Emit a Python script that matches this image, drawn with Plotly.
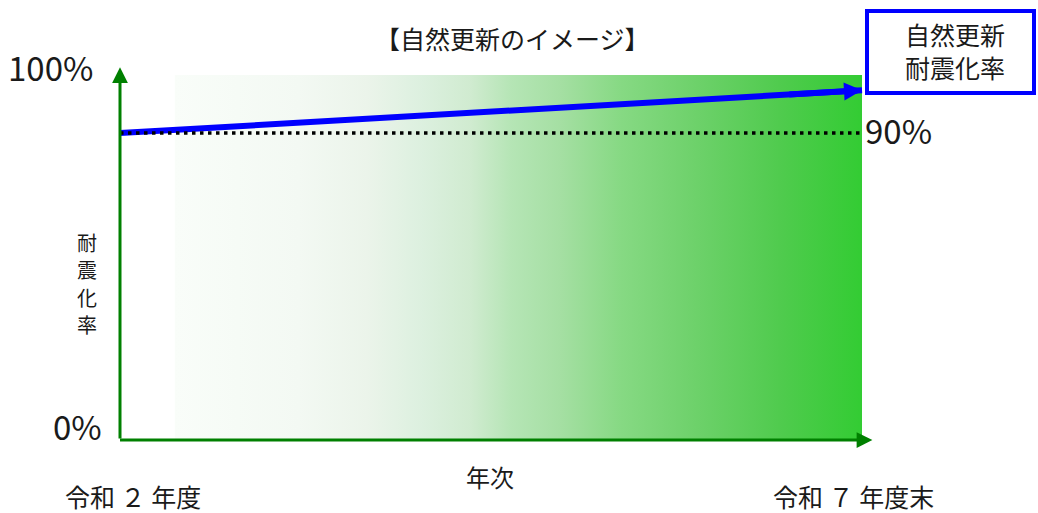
import plotly.graph_objects as go

# ---- data ----
years = [2, 7]                      # 令和2年度 -> 令和7年度末
natural_rate = [90, 102.5]          # 自然更新 耐震化率 (conceptual)
baseline = [90, 90]                 # 90% reference line
grad_x = [2.37, 7.0]                # gradient band extent (years)
grad_top = 107
axis_top = 109.3
axis_right = 7.07

start_label = "令和 ２ 年度"
end_label = "令和 ７ 年度末"
title_text = "【自然更新のイメージ】"
ylabel_chars = ["耐", "震", "化", "率"]
xlabel = "年次"
legend_text = "自然更新<br>耐震化率"

W, H = 1038, 513
# scale: year 2 -> px 120, year 7 -> px 862 ; 0% -> px 440, 90% -> px 133
sx = (862 - 120) / 5.0
sy = (440 - 133) / 90.0
xr = [2 - 120 / sx, 2 + (W - 120) / sx]
yr = [-(H - 440) / sy, -(H - 440) / sy + H / sy]

FONT = "Noto Sans CJK JP"
TXT = "#1a1a1a"

grad_scale = [
    [0.0, "#f9fdf9"], [0.18, "#f3f9f3"], [0.28, "#ebf4ea"], [0.36, "#dcf0df"],
    [0.43, "#d0ebd0"], [0.49, "#b5e5b5"], [0.56, "#a5dfa3"], [0.65, "#86d983"],
    [0.76, "#6dd16a"], [0.88, "#50cb4e"], [1.0, "#33cc33"],
]

fig = go.Figure()
fig.add_trace(go.Scatter(
    x=[grad_x[0], grad_x[1], grad_x[1], grad_x[0], grad_x[0]],
    y=[0, 0, grad_top, grad_top, 0],
    fill="toself", mode="none",
    fillgradient=dict(type="horizontal", colorscale=grad_scale),
    hoverinfo="skip", showlegend=False,
))
# blue line (trend)
fig.add_trace(go.Scatter(
    x=years, y=natural_rate, mode="lines",
    line=dict(color="#0000ff", width=6), showlegend=False, hoverinfo="skip",
))
# dotted 90% line
fig.add_trace(go.Scatter(
    x=years, y=baseline, mode="lines",
    line=dict(color="#000000", width=3.5, dash="3.5px,4.5px"), showlegend=False, hoverinfo="skip",
))

annotations = []
# axes arrows
annotations.append(dict(x=years[0], y=axis_top, ax=years[0], ay=0, xref="x", yref="y",
                        axref="x", ayref="y", showarrow=True, arrowhead=2, arrowsize=1.05,
                        arrowwidth=3, arrowcolor="#008000", text="", standoff=0))
annotations.append(dict(x=axis_right, y=0, ax=years[0] - 0.01, ay=0, xref="x", yref="y",
                        axref="x", ayref="y", showarrow=True, arrowhead=2, arrowsize=1.05,
                        arrowwidth=3, arrowcolor="#008000", text="", standoff=0))
# blue arrowhead
t = 0.9
annotations.append(dict(x=years[1], y=natural_rate[1],
                        ax=years[0] + t * (years[1] - years[0]),
                        ay=natural_rate[0] + t * (natural_rate[1] - natural_rate[0]),
                        xref="x", yref="y", axref="x", ayref="y", showarrow=True,
                        arrowhead=2, arrowsize=0.6, arrowwidth=6, arrowcolor="#0000ff",
                        text="", standoff=0))

def px(xp):
    return xp / W

def py(yp):
    return 1 - yp / H

def label(text, xp, yp, size, xanchor="center", pad=1):
    annotations.append(dict(x=px(xp), y=py(yp), xref="paper", yref="paper", text=text,
                            showarrow=False, xanchor=xanchor, yanchor="middle", borderpad=pad,
                            font=dict(family=FONT, size=size, color=TXT)))

label("100%", 6, 67, 33, "left")
label("0%", 51, 426, 33, "left")
label("90%", 863, 130, 33, "left")
label(title_text, 512, 38, 25)
label(xlabel, 490, 476, 24)
label(start_label, 133, 496, 25)
label(end_label, 853, 496, 25)
for i, ch in enumerate(ylabel_chars):
    label(ch, 87, 242 + i * 27.5, 20, pad=0)
label(legend_text, 955, 50, 25)

shapes = [dict(type="rect", xref="paper", yref="paper",
               x0=px(867), x1=px(1034), y0=py(93), y1=py(11),
               line=dict(color="#0000ff", width=4), fillcolor="rgba(0,0,0,0)")]

fig.update_layout(
    width=W, height=H,
    margin=dict(l=0, r=0, t=0, b=0),
    paper_bgcolor="white", plot_bgcolor="white",
    xaxis=dict(range=xr, visible=False, fixedrange=True),
    yaxis=dict(range=yr, visible=False, fixedrange=True),
    annotations=annotations, shapes=shapes, showlegend=False,
)
fig.write_html("out.html")
